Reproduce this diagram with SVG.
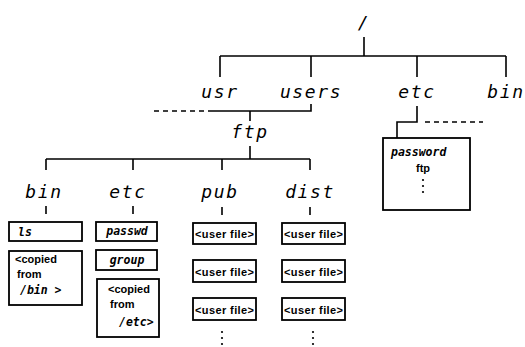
<svg xmlns="http://www.w3.org/2000/svg" width="525" height="347" viewBox="0 0 525 347">
<style>
.ln{stroke:#000;stroke-width:1.6;fill:none}
.ds{stroke:#000;stroke-width:1.6;fill:none;stroke-dasharray:5 4}
.box{stroke:#000;stroke-width:1.8;fill:#fff}
.big{font-family:"DejaVu Sans Mono",monospace;font-style:oblique;font-size:18px;letter-spacing:1.6px;fill:#000;text-anchor:middle}
.it{font-family:"DejaVu Sans Mono",monospace;font-style:oblique;font-weight:bold;font-size:11.5px;fill:#000}
.sm{font-family:"Liberation Sans",Arial,sans-serif;font-weight:bold;font-size:11px;fill:#000}
.dot{fill:#000}
</style>
<g id="connectors">
<path class="ln" d="M364 37V56M220 56H506M220 56V77M311 56V77M417 56V77M506 56V77"/>
<path class="ln" d="M311 104V111H213M250 111V121"/>
<path class="ds" d="M213 111H152"/>
<path class="ln" d="M250 146V159M46 159H310M46 159V170M133 159V170M222 159V170M310 159V170"/>
<path class="ln" d="M46 206V214M133 206V214M222 207V215M310 207V215"/>
<path class="ln" d="M417 106V122H397V138"/>
<path class="ds" d="M425 122H483"/>
</g>
<g id="root"><text class="big" x="364" y="29" font-size="20">/</text></g>
<g id="usr"><text class="big" x="220" y="98">usr</text></g>
<g id="users"><text class="big" x="311" y="98">users</text></g>
<g id="etc"><text class="big" x="417" y="98">etc</text></g>
<g id="bin"><text class="big" x="506" y="98">bin</text></g>
<g id="ftp"><text class="big" x="250" y="138">ftp</text></g>
<g id="ftp-bin"><text class="big" x="44" y="198">bin</text></g>
<g id="ftp-etc"><text class="big" x="128" y="198">etc</text></g>
<g id="ftp-pub"><text class="big" x="220" y="198">pub</text></g>
<g id="ftp-dist"><text class="big" x="310" y="198">dist</text></g>
<g id="bin-ls"><rect class="box" x="9" y="222" width="73" height="19"/><text class="it" x="18" y="236">ls</text></g>
<g id="bin-copied"><rect class="box" x="9" y="251" width="73" height="54"/>
<text class="sm" x="15" y="263">&lt;copied</text><text class="sm" x="17" y="278">from</text><text class="it" x="20" y="294" font-size="13">/bin &gt;</text></g>
<g id="etc-passwd"><rect class="box" x="96" y="222" width="61" height="19"/><text class="it" x="127" y="235" text-anchor="middle">passwd</text></g>
<g id="etc-group"><rect class="box" x="96" y="250" width="61" height="20"/><text class="it" x="127" y="264" text-anchor="middle">group</text></g>
<g id="etc-copied"><rect class="box" x="97" y="279" width="62" height="58"/>
<text class="sm" x="108" y="293">&lt;copied</text><text class="sm" x="110" y="308">from</text><text class="it" x="119" y="326" font-size="12">/etc&gt;</text></g>
<g id="pub-files">
<rect class="box" x="193" y="223" width="63" height="21"/><text class="sm" x="224.5" y="238" text-anchor="middle" textLength="59">&lt;user file&gt;</text>
<rect class="box" x="193" y="260" width="63" height="22"/><text class="sm" x="224.5" y="275.5" text-anchor="middle" textLength="59">&lt;user file&gt;</text>
<rect class="box" x="193" y="298" width="63" height="22"/><text class="sm" x="224.5" y="313.5" text-anchor="middle" textLength="59">&lt;user file&gt;</text>
<circle class="dot" cx="222" cy="332" r="1.1"/><circle class="dot" cx="222" cy="338" r="1.1"/><circle class="dot" cx="222" cy="344" r="1.1"/>
</g>
<g id="dist-files">
<rect class="box" x="282" y="223" width="63" height="21"/><text class="sm" x="313.5" y="238" text-anchor="middle" textLength="59">&lt;user file&gt;</text>
<rect class="box" x="282" y="260" width="63" height="22"/><text class="sm" x="313.5" y="275.5" text-anchor="middle" textLength="59">&lt;user file&gt;</text>
<rect class="box" x="282" y="298" width="63" height="22"/><text class="sm" x="313.5" y="313.5" text-anchor="middle" textLength="59">&lt;user file&gt;</text>
<circle class="dot" cx="313" cy="332" r="1.1"/><circle class="dot" cx="313" cy="338" r="1.1"/><circle class="dot" cx="313" cy="344" r="1.1"/>
</g>
<g id="etc-password"><rect class="box" x="383" y="138" width="87" height="72"/>
<text class="it" x="391" y="156" font-size="13">password</text><text class="sm" x="423" y="172" text-anchor="middle">ftp</text>
<circle class="dot" cx="423" cy="180" r="1.1"/><circle class="dot" cx="423" cy="186" r="1.1"/><circle class="dot" cx="423" cy="192" r="1.1"/>
</g>
</svg>
